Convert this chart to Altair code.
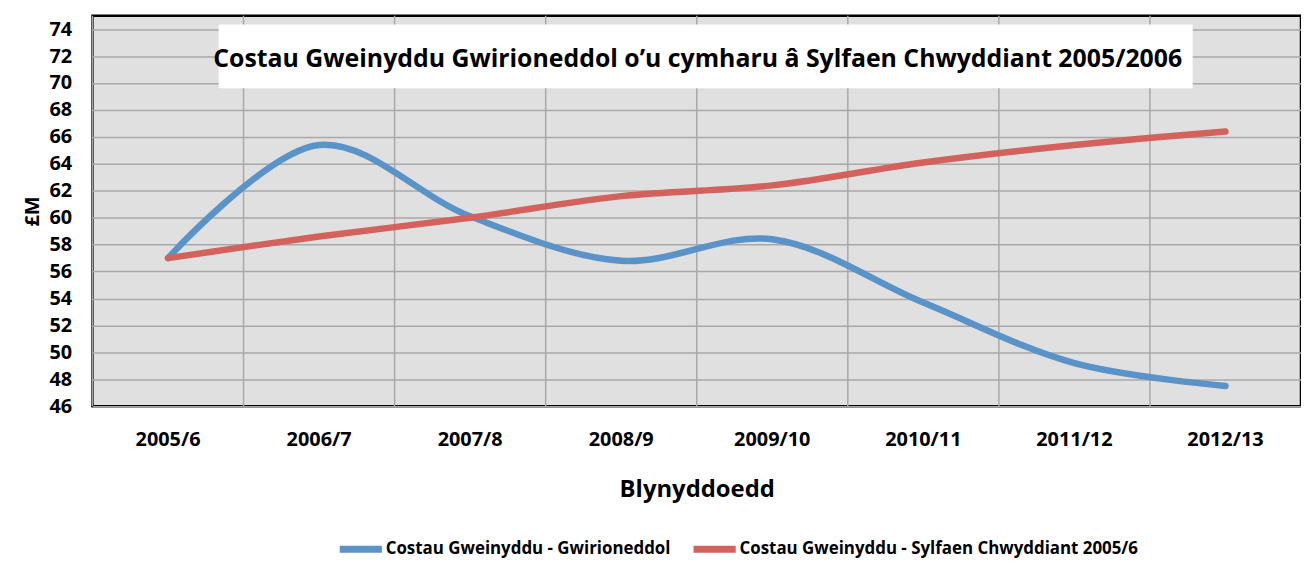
import altair as alt
import pandas as pd

years = ["2005/6", "2006/7", "2007/8", "2008/9", "2009/10", "2010/11", "2011/12", "2012/13"]
actual = [57.0, 65.4, 60.1, 56.8, 58.4, 53.7, 49.2, 47.5]
baseline = [57.0, 58.6, 60.0, 61.6, 62.4, 64.1, 65.4, 66.4]
series_names = ["Costau Gweinyddu - Gwirioneddol", "Costau Gweinyddu - Sylfaen Chwyddiant 2005/6"]
colors = ["#5A93C8", "#D2625B"]
y_ticks = list(range(46, 75, 2))
title_text = "Costau Gweinyddu Gwirioneddol o\u2019u cymharu \u00e2 Sylfaen Chwyddiant 2005/2006"

rows = []
for yr, a, b in zip(years, actual, baseline):
    rows.append({"year": yr, "series": series_names[0], "value": a})
    rows.append({"year": yr, "series": series_names[1], "value": b})
df = pd.DataFrame(rows)
yrs = pd.DataFrame({"year": years})

FONT = "Open Sans"
xscale = alt.Scale(type="band", domain=years, paddingInner=0, paddingOuter=0)
GRID = "#A8A8A8"

x_axis = alt.Axis(title="Blynyddoedd", grid=False, ticks=False, domain=False,
                  labelFont=FONT, labelFontSize=20, labelFontWeight="bold",
                  labelColor="black", labelPadding=24, labelAngle=0,
                  titleFont=FONT, titleFontSize=24, titleFontWeight="bold",
                  titleColor="black", titlePadding=28)

vgrid = alt.Chart(yrs).mark_rule(color=GRID, strokeWidth=1.5).encode(
    x=alt.X("year:N", scale=xscale, bandPosition=0, sort=years, axis=x_axis)
)

lines = alt.Chart(df).mark_line(interpolate="catmull-rom", strokeWidth=6.5, strokeCap="round").encode(
    x=alt.X("year:N", scale=xscale, bandPosition=0.5, sort=years, axis=x_axis),
    y=alt.Y("value:Q", scale=alt.Scale(domain=[46, 75], nice=False, zero=False),
            axis=alt.Axis(values=y_ticks, title="\u00a3M", grid=True, gridColor=GRID, gridWidth=1.5,
                          gridOpacity=1, ticks=False, domain=False,
                          labelFont=FONT, labelFontSize=20, labelFontWeight="bold",
                          labelColor="black", labelPadding=21,
                          titleFont=FONT, titleFontSize=20, titleFontWeight="bold",
                          titleColor="black", titlePadding=6)),
    color=alt.Color("series:N", scale=alt.Scale(domain=series_names, range=colors),
                    legend=alt.Legend(title=None, orient="none", legendX=245, legendY=512,
                                      direction="horizontal", symbolType="stroke",
                                      symbolStrokeWidth=7, symbolSize=1800,
                                      labelFont=FONT, labelFontSize=17,
                                      labelFontWeight="bold", labelColor="black",
                                      labelLimit=0, labelOffset=0, columnPadding=8)),
)

tdf = pd.DataFrame({"t": [title_text]})
box = alt.Chart(tdf).mark_rect(color="white").encode(
    x=alt.value(127), x2=alt.value(1107), y=alt.value(9), y2=alt.value(73)
)
ttext = alt.Chart(tdf).mark_text(font=FONT, fontSize=25, fontWeight="bold",
                                 color="black", align="center", baseline="middle").encode(
    x=alt.value(609), y=alt.value(44), text="t:N"
)

chart = alt.layer(vgrid, lines, box, ttext).properties(
    width=1216, height=393,
    autosize=alt.AutoSizeParams(type="none"),
    padding={"left": 85, "top": 6, "right": 0, "bottom": 151},
).configure_view(fill="#E0E0E0", stroke="black", strokeWidth=2.5)

chart.save("out.html", embed_options={"renderer": "svg", "actions": False})
